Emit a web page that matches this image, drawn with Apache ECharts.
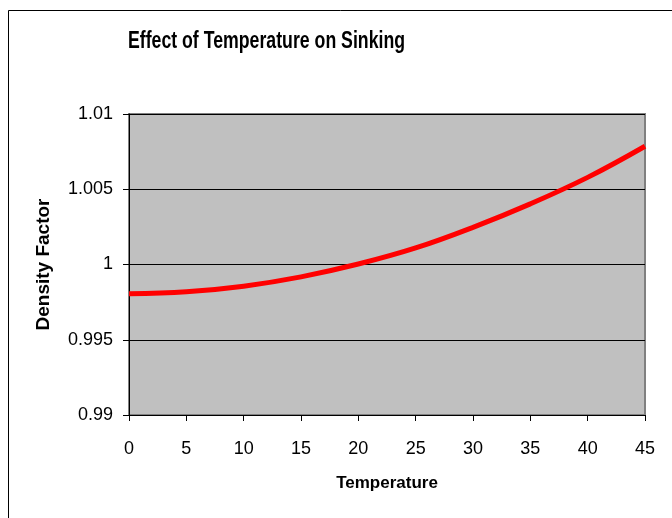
<!DOCTYPE html>
<html>
<head>
<meta charset="utf-8">
<script src="https://cdn.jsdelivr.net/npm/echarts@6/dist/echarts.min.js"></script>
<style>
  html, body { margin: 0; padding: 0; background: #fff; }
  #chart { width: 672px; height: 518px; }
</style>
</head>
<body>
<div id="chart"></div>
<script>
// Water temperature (°C) and the relative density factor at each temperature
const temperatures = [0, 5, 10, 15, 20, 25, 30, 35, 40, 45];
const densityFactor = [0.99806, 0.99819, 0.99856, 0.99918, 1.00003, 1.00110, 1.00247, 1.00403, 1.00579, 1.00786];
const yTicks = [0.99, 0.995, 1, 1.005, 1.01];

const chartTitle = 'Effect of Temperature on Sinking';
const FONT = '"Liberation Sans", Arial, sans-serif';

const chart = echarts.init(document.getElementById('chart'), null, { renderer: 'canvas' });

const points = temperatures.map((t, i) => [t, densityFactor[i]]);

chart.setOption({
  animation: false,
  backgroundColor: '#ffffff',
  graphic: [
    {
      // outer chart frame (runs past the right and bottom edges)
      type: 'rect',
      shape: { x: 8.5, y: 10.5, width: 700, height: 600 },
      style: { fill: 'none', stroke: '#000', lineWidth: 1 },
      z: -1
    },
    {
      // condensed bold title
      type: 'text',
      x: 266.5,
      y: 42,
      scaleX: 0.77,
      style: {
        text: chartTitle,
        fontFamily: FONT,
        fontWeight: 'bold',
        fontSize: 23,
        fill: '#000',
        textAlign: 'center',
        textVerticalAlign: 'middle'
      }
    }
  ],
  grid: {
    left: 129,
    top: 114,
    right: 27,
    bottom: 103,
    show: true,
    backgroundColor: '#C0C0C0',
    borderColor: '#808080',
    borderWidth: 2
  },
  xAxis: {
    type: 'value',
    min: 0,
    max: 45,
    interval: 5,
    name: 'Temperature',
    nameLocation: 'middle',
    nameGap: 60,
    nameTextStyle: {
      fontFamily: FONT,
      fontWeight: 'bold',
      fontSize: 17,
      color: '#000'
    },
    axisLine: { show: true, onZero: false, lineStyle: { color: '#000', width: 1 } },
    axisTick: { show: true, inside: false, length: 6, lineStyle: { color: '#000' } },
    axisLabel: {
      margin: 25,
      fontFamily: FONT,
      fontSize: 18,
      color: '#000'
    },
    splitLine: { show: false }
  },
  yAxis: {
    type: 'value',
    min: 0.99,
    max: 1.01,
    interval: 0.005,
    name: 'Density Factor',
    nameLocation: 'middle',
    nameGap: 76,
    nameRotate: 90,
    nameTextStyle: {
      fontFamily: FONT,
      fontWeight: 'bold',
      fontSize: 19,
      color: '#000'
    },
    axisLine: { show: true, onZero: false, lineStyle: { color: '#000', width: 1 } },
    axisTick: { show: true, inside: false, length: 6, lineStyle: { color: '#000' } },
    axisLabel: {
      margin: 16,
      fontFamily: FONT,
      fontSize: 18,
      color: '#000',
      formatter: v => {
        const hit = yTicks.find(t => Math.abs(t - v) < 1e-9);
        return hit === undefined ? '' : String(hit);
      }
    },
    splitLine: {
      show: true,
      lineStyle: { color: '#000', width: 1 }
    }
  },
  series: [{
    type: 'line',
    data: points,
    smooth: 0.4,
    showSymbol: false,
    lineStyle: { color: '#FF0000', width: 5 },
    z: 3
  }]
});
</script>
</body>
</html>
